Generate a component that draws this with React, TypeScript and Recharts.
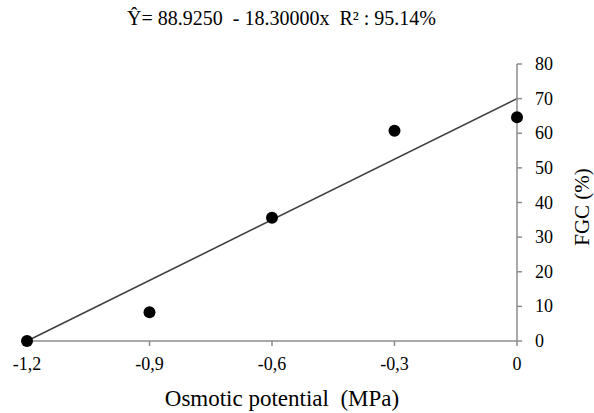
import { ComposedChart, Line, Scatter, XAxis, YAxis } from "recharts";

const potential = [-1.2, -0.9, -0.6, -0.3, 0];
const fgc = [0, 8.3, 35.6, 60.7, 64.6];

const trendX = [-1.2, 0];
const trendY = [0, 70];

const xTicks = [-1.2, -0.9, -0.6, -0.3, 0];
const yTicks = [0, 10, 20, 30, 40, 50, 60, 70, 80];

const TITLE = "Ŷ= 88.9250  - 18.30000x  R² : 95.14%";
const X_LABEL = "Osmotic potential\u00a0\u00a0(MPa)";
const Y_LABEL = "FGC (%)";

const FONT = "Liberation Serif, Times New Roman, serif";
const AXIS_COLOR = "#8c8c8c";

const points = potential.map((x, i) => ({ x, y: fgc[i] }));
const trend = trendX.map((x, i) => ({ x, y: trendY[i] }));

const formatTick = (v: number) => String(v).replace(".", ",");

const Dot = (props: any) => <circle cx={props.cx} cy={props.cy} r={6} fill="#000" />;

const XTick = (props: any) => (
  <text x={props.x} y={props.y + 13} textAnchor="middle" fill="#000" style={{ fontFamily: FONT, fontSize: 18 }}>
    {formatTick(props.payload.value)}
  </text>
);

const YTick = (props: any) => (
  <text x={props.x} y={props.y + 6} textAnchor="start" fill="#000" style={{ fontFamily: FONT, fontSize: 18 }}>
    {props.payload.value}
  </text>
);

export default function App() {
  return (
    <div style={{ position: "absolute", left: 0, top: 0, width: 594, height: 413, background: "#fff", fontFamily: FONT }}>
      <div
        style={{
          position: "absolute",
          left: 127,
          top: 8,
          fontSize: 20,
          lineHeight: 1,
          whiteSpace: "pre",
          color: "#000",
        }}
      >
        {TITLE}
      </div>
      <div
        style={{
          position: "absolute",
          left: 0,
          width: 564,
          top: 387,
          textAlign: "center",
          fontSize: 23,
          lineHeight: 1,
          whiteSpace: "pre",
          color: "#000",
        }}
      >
        {X_LABEL}
      </div>
      <div
        style={{
          position: "absolute",
          left: 582,
          top: 207,
          transform: "translate(-50%, -50%) rotate(-90deg)",
          fontSize: 21,
          lineHeight: 1,
          whiteSpace: "pre",
          color: "#000",
        }}
      >
        {Y_LABEL}
      </div>
      <ComposedChart width={594} height={413} margin={{ top: 64, right: 0, left: 27, bottom: 0 }}>
        <XAxis
          type="number"
          dataKey="x"
          domain={[-1.2, 0]}
          ticks={xTicks}
          height={72}
          stroke={AXIS_COLOR}
          strokeWidth={1.5}
          tickSize={5}
          tickMargin={11}
          tick={<XTick />}
        />
        <YAxis
          type="number"
          dataKey="y"
          orientation="right"
          domain={[0, 80]}
          ticks={yTicks}
          width={77}
          stroke={AXIS_COLOR}
          strokeWidth={1.5}
          tickSize={5}
          tickMargin={13}
          tick={<YTick />}
        />
        <Line
          data={trend}
          dataKey="y"
          type="linear"
          stroke="#404040"
          strokeWidth={1.6}
          dot={false}
          activeDot={false}
          isAnimationActive={false}
        />
        <Scatter data={points} dataKey="y" shape={Dot} isAnimationActive={false} />
      </ComposedChart>
    </div>
  );
}
